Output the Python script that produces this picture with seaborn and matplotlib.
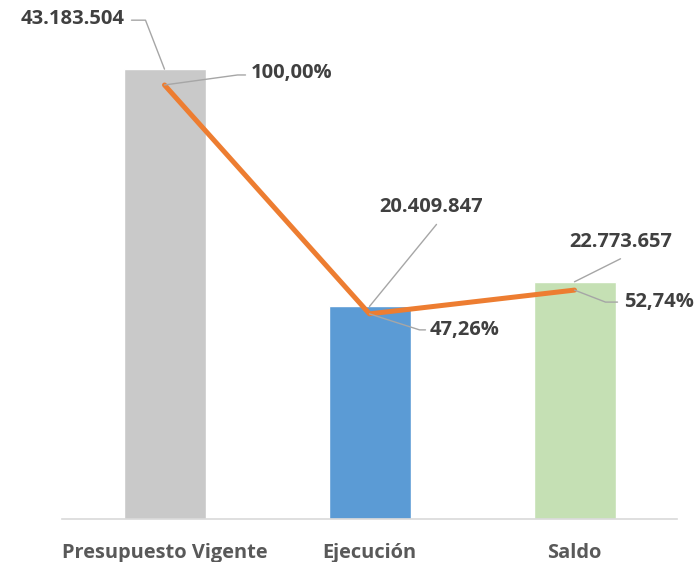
import matplotlib
matplotlib.use("Agg")
import matplotlib.pyplot as plt
import seaborn as sns
import pandas as pd

# data
categorias = ["Presupuesto Vigente", "Ejecución", "Saldo"]
montos = [43183504, 20409847, 22773657]
porcentajes = [100.00, 47.26, 52.74]
etiquetas_monto = ["43.183.504", "20.409.847", "22.773.657"]
etiquetas_pct = ["100,00%", "47,26%", "52,74%"]
colores = ["#C9C9C9", "#5B9BD5", "#C5E0B4"]

df = pd.DataFrame({"cat": categorias, "monto": montos, "pct": porcentajes})

sns.set_style("white")
plt.rcParams["font.family"] = ["Open Sans", "DejaVu Sans"]

fig = plt.figure(figsize=(6.97, 5.62), dpi=100)
ax = fig.add_axes([62 / 697, 43 / 562, 615 / 697, 500 / 562])

sns.barplot(data=df, x="cat", y="monto", hue="cat", palette=colores,
            legend=False, width=0.4, ax=ax, saturation=1)
ax.set_xlim(-0.5, 2.5)
ax.set_ylim(0, 48e6)

ax2 = ax.twinx()
sns.lineplot(data=df, x="cat", y="pct", ax=ax2, color="#ED7D31",
             linewidth=3.6, sort=False)
ax2.set_ylim(0, 115.2)

for a in (ax, ax2):
    a.set_xlabel("")
    a.set_ylabel("")
    a.set_yticks([])
    for s in a.spines.values():
        s.set_visible(False)
ax.spines["bottom"].set_visible(True)
ax.spines["bottom"].set_color("#D9D9D9")
ax.spines["bottom"].set_linewidth(1.2)
ax.tick_params(axis="x", length=0, pad=17.5, labelsize=14.4, labelcolor="#595959")
for t in ax.get_xticklabels():
    t.set_fontweight("bold")

txt = dict(fontsize=14.5, fontweight="bold", color="#404040")
lead = dict(color="#A6A6A6", linewidth=1.0)


def leader(axis, x, y, offs, label, toff, ha):
    fig.canvas.draw()
    px, py = axis.transData.transform((x, y))
    pts = [(px + dx, py + dy) for dx, dy in [(0, 0)] + offs]
    fpts = fig.transFigure.inverted().transform(pts)
    fig.add_artist(plt.Line2D(fpts[:, 0], fpts[:, 1], zorder=5, **lead))
    tx, ty = fig.transFigure.inverted().transform((px + toff[0], py + toff[1]))
    fig.text(tx, ty, label, ha=ha, va="center", **txt)


# amount labels (anchored on bar tops)
leader(ax, 0, montos[0], [(-19, 49), (-33, 49)], etiquetas_monto[0], (-40, 50), "right")
leader(ax, 1, montos[1], [(67, 82)], etiquetas_monto[1], (62, 99), "center")
leader(ax, 2, montos[2], [(46, 23)], etiquetas_monto[2], (46, 40), "center")

# percentage labels (anchored on line points)
leader(ax2, 0, porcentajes[0], [(73, 10), (81, 10)], etiquetas_pct[0], (86, 12), "left")
leader(ax2, 1, porcentajes[1], [(50, -16), (56, -16)], etiquetas_pct[1], (60, -16), "left")
leader(ax2, 2, porcentajes[2], [(31, -12), (43, -12)], etiquetas_pct[2], (50, -12), "left")

fig.savefig("out.png", dpi=100)
